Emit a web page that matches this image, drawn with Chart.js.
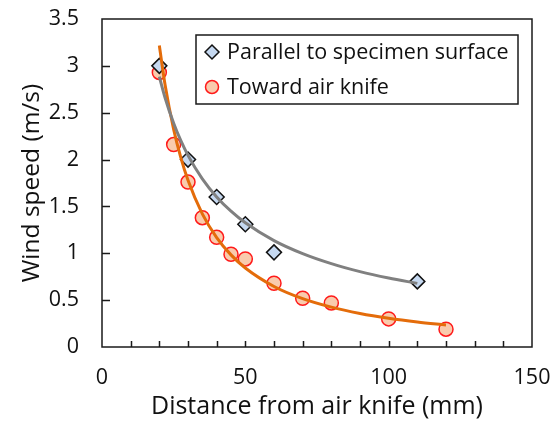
<!DOCTYPE html>
<html>
<head>
<meta charset="utf-8">
<script src="https://cdn.jsdelivr.net/npm/chart.js@4/dist/chart.umd.min.js"></script>
<style>
html,body{margin:0;padding:0;background:#fff;}
#wrap{width:552px;height:425px;position:relative;}
</style>
</head>
<body>
<div id="wrap"><canvas id="c" width="552" height="425"></canvas></div>
<script>
// ---- data ----
const parallelLabel = "Parallel to specimen surface";
const towardLabel = "Toward air knife";
const parallelX = [20, 30, 40, 50, 60, 110];
const parallelY = [3.0, 2.0, 1.6, 1.31, 1.01, 0.70];
const towardX = [20, 25, 30, 35, 40, 45, 50, 60, 70, 80, 100, 120];
const towardY = [2.93, 2.16, 1.76, 1.38, 1.17, 0.99, 0.94, 0.68, 0.52, 0.47, 0.30, 0.19];
// trend curves
const parallelFitX = [20, 22, 25, 27.5, 30, 35, 40, 45, 50, 60, 70, 80, 90, 100, 110];
const parallelFitY = [2.885, 2.660, 2.387, 2.201, 2.045, 1.794, 1.601, 1.449, 1.325, 1.135, 0.996, 0.889, 0.804, 0.736, 0.679];
const towardFitX = [20, 22, 25, 27.5, 30, 35, 40, 45, 50, 60, 70, 80, 90, 100, 110, 120];
const towardFitY = [3.217, 2.799, 2.322, 2.020, 1.779, 1.421, 1.168, 0.983, 0.843, 0.646, 0.516, 0.425, 0.358, 0.307, 0.267, 0.235];
const xTicks = [0, 50, 100, 150];
const yTicks = [0, 0.5, 1, 1.5, 2, 2.5, 3, 3.5];
const xTitle = "Distance from air knife (mm)";
const yTitle = "Wind speed (m/s)";

const FONT = "'Open Sans', sans-serif";
const pts = (xs, ys) => xs.map((x, i) => ({x: x, y: ys[i]}));

const innerTicks = {
  id: 'innerTicks',
  beforeDatasetsDraw(chart) {
    const ctx = chart.ctx, a = chart.chartArea;
    const xs = chart.scales.x, ys = chart.scales.y;
    ctx.save();
    ctx.strokeStyle = '#1a1a1a';
    ctx.lineWidth = 1.5;
    ctx.beginPath();
    for (let v = 10; v < 150; v += 10) {
      const px = Math.round(xs.getPixelForValue(v)) + 0.5;
      ctx.moveTo(px, a.bottom); ctx.lineTo(px, a.bottom - 6);
    }
    for (let v = 0.5; v < 3.5; v += 0.5) {
      const py = Math.round(ys.getPixelForValue(v)) + 0.5;
      ctx.moveTo(a.left, py); ctx.lineTo(a.left + 8, py);
    }
    ctx.stroke();
    ctx.strokeRect(a.left, a.top, a.right - a.left, a.bottom - a.top);
    ctx.restore();
  },
  afterDraw(chart) {
    const ctx = chart.ctx, a = chart.chartArea;
    const bx = a.left + 94, by = a.top + 16, bw = 322, bh = 69;
    ctx.save();
    ctx.fillStyle = '#fff';
    ctx.fillRect(bx, by, bw, bh);
    ctx.strokeStyle = '#1a1a1a';
    ctx.lineWidth = 1.5;
    ctx.strokeRect(bx, by, bw, bh);
    const items = chart.data.datasets.filter(d => d.legend);
    items.forEach((d, i) => {
      const cy = by + 17 + i * 35, mx = bx + 16;
      ctx.beginPath();
      const r = 7;
      if (d.pointStyle === 'rectRot') {
        ctx.moveTo(mx - r, cy); ctx.lineTo(mx, cy - r); ctx.lineTo(mx + r, cy); ctx.lineTo(mx, cy + r); ctx.closePath();
      } else {
        ctx.arc(mx, cy, 6.5, 0, Math.PI * 2);
      }
      ctx.fillStyle = d.backgroundColor; ctx.fill();
      ctx.strokeStyle = d.borderColor; ctx.lineWidth = 1.5; ctx.stroke();
      ctx.fillStyle = '#111';
      ctx.font = '21.5px ' + FONT;
      ctx.textBaseline = 'middle';
      ctx.textAlign = 'left';
      ctx.fillText(d.label, bx + 31, cy + 1);
    });
    ctx.restore();
  }
};

new Chart(document.getElementById('c'), {
  type: 'scatter',
  data: {
    datasets: [
      { label: 'fit1', type: 'line', data: pts(parallelFitX, parallelFitY), borderColor: '#808080', borderWidth: 3,
        pointRadius: 0, fill: false, cubicInterpolationMode: 'monotone', showLine: true },
      { label: 'fit2', type: 'line', data: pts(towardFitX, towardFitY), borderColor: '#e46c0a', borderWidth: 3,
        pointRadius: 0, fill: false, cubicInterpolationMode: 'monotone', showLine: true },
      { label: parallelLabel, legend: true, data: pts(parallelX, parallelY), pointStyle: 'rectRot', pointRadius: 7.5,
        backgroundColor: '#c6d9f1', borderColor: '#111', borderWidth: 1.5 },
      { label: towardLabel, legend: true, data: pts(towardX, towardY), pointStyle: 'circle', pointRadius: 7,
        backgroundColor: '#f9cbad', borderColor: '#ff1a1a', borderWidth: 1.5 }
    ]
  },
  options: {
    responsive: false,
    animation: false,
    events: [],
    layout: { padding: { top: 19, right: 20, left: 0, bottom: 0 } },
    plugins: { legend: { display: false }, tooltip: { enabled: false } },
    scales: {
      x: {
        type: 'linear', min: 0, max: 150,
        afterBuildTicks: s => { s.ticks = xTicks.map(v => ({value: v})); },
        afterFit: s => { s.height = 78; s.paddingLeft = 0; s.paddingRight = 0; },
        grid: { display: false, drawTicks: false },
        border: { display: false },
        ticks: { color: '#111', font: { family: FONT, size: 21.5 }, padding: 18, maxRotation: 0,
                 callback: v => String(v) },
        title: { display: true, text: xTitle, color: '#111', font: { family: FONT, size: 25 }, padding: { top: 0, bottom: 3 } }
      },
      y: {
        type: 'linear', min: 0, max: 3.5,
        afterBuildTicks: s => { s.ticks = yTicks.map(v => ({value: v})); },
        afterFit: s => { s.width = 102; s.paddingTop = 0; s.paddingBottom = 0; },
        grid: { display: false, drawTicks: false },
        border: { display: false },
        ticks: { color: '#111', font: { family: FONT, size: 21.5 }, padding: 23, callback: v => String(v) },
        title: { display: true, text: yTitle, color: '#111', font: { family: FONT, size: 24.5 }, padding: { top: 17, bottom: 0 } }
      }
    }
  },
  plugins: [innerTicks]
});
</script>
</body>
</html>
